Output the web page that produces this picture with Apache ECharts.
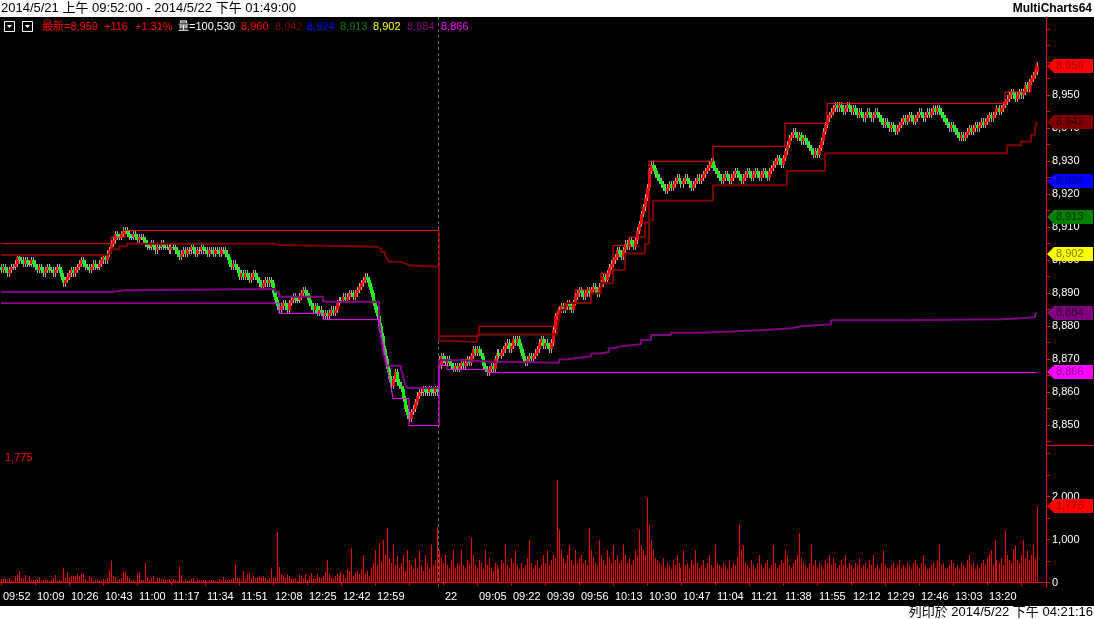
<!DOCTYPE html>
<html><head><meta charset="utf-8">
<script src="https://cdn.jsdelivr.net/npm/echarts@6/dist/echarts.min.js"></script>
<style>html,body{margin:0;padding:0;background:#fff;}#chart{width:1094px;height:619px;}</style>
</head><body><div id="chart"></div>
<script>
// ---------- DATA ----------
const tickLabels = ['09:52','10:09','10:26','10:43','11:00','11:17','11:34','11:51','12:08','12:25','12:42','12:59','','22','09:05','09:22','09:39','09:56','10:13','10:30','10:47','11:04','11:21','11:38','11:55','12:12','12:29','12:46','13:03','13:20',''];
const dayBreakIndex = 219;

const opens = [
8898,8897,8898,8897,8896,8897,8898,8898,
8899,8901,
8900,8900,8899,8900,8899,8899,8900,8899,
8898,8897,8898,8897,8896,8897,8898,8897,8897,8896,8897,8898,
8897,8895,8893,
8894,8895,8896,8897,8896,
8897,8898,8899,8900,8899,
8898,8898,8897,8898,8899,8898,8898,
8899,8900,8901,8900,
8902,8903,
8905,8906,8908,
8907,8907,8908,8909,
8909,8908,8907,8907,8908,8907,8906,8907,8907,8906,
8905,8904,8904,8905,8904,8903,8904,8904,8905,8904,
8904,8904,8903,8904,8904,8903,8902,8901,8902,8903,
8902,8903,8903,8904,8903,8902,8903,8903,8904,8903,8903,8902,
8903,8903,8902,8903,8903,8902,8903,8903,8902,8901,8899,8898,8899,
8898,8897,8895,8896,8895,8896,8895,8894,8895,8896,8895,
8894,8893,8892,8893,8894,8893,8894,
8893,8890,8888,8886,
8885,8886,8887,8886,8885,
8887,8888,8889,8888,8888,
8889,8890,8891,8890,8889,
8887,8886,8885,8886,8884,
8885,8884,8883,8884,8883,8884,8885,8884,
8885,8887,8888,8888,8889,
8888,8889,8890,8890,8889,
8890,8891,8892,8893,8894,
8895,8894,8892,8890,8887,
8885,8883,8880,8877,8873,
8870,8867,8864,
8862,8864,8866,
8863,8862,8861,8858,
8855,8853,8852,8854,
8855,8857,
8859,8860,8860,8861,8860,8860,8861,8860,8860,8861,
8870,8868,8871,8870,8869,8870,
8869,8868,8867,8868,8867,
8868,8869,8868,8869,8870,
8869,8871,8873,
8872,8873,8872,8871,
8868,8867,8866,8867,8868,
8867,8870,8872,8871,8872,
8873,8874,8875,8873,8874,
8876,8875,8876,
8874,8872,8870,8869,
8870,8871,8870,8871,8872,
8873,8875,8876,8874,
8875,8874,8873,
8875,8879,8883,
8884,8885,8886,8885,8886,8887,8886,8885,
8887,8889,8890,8891,8890,8889,8890,8891,
8890,8891,8892,8891,8890,8892,
8893,8895,8894,8896,8898,
8899,8900,8901,8903,8902,
8901,8903,8905,8904,8906,8905,
8904,8906,8909,8911,
8914,8916,8919,
8922,8927,8929,8928,
8926,8925,8924,8923,8922,8921,8922,8923,
8922,8923,8924,8925,8924,8923,8924,8925,8924,8923,
8922,8923,8924,8925,8924,8925,8926,
8927,8928,8929,8930,8928,
8927,8926,8925,8924,8925,8926,8925,8924,8925,8926,8927,8926,8925,
8924,8925,8926,8927,8926,8925,8926,8927,8926,8925,8926,8927,8926,8925,
8927,8928,8929,8930,8931,8930,8929,8931,8933,8935,
8937,8938,8939,8938,8937,8938,8936,8937,
8936,8935,8934,8933,8932,8933,8932,8934,
8936,8939,8941,8943,8944,8945,
8946,8947,8946,8947,8946,8945,8946,8947,8946,8945,
8946,8945,8944,8945,8944,8943,8944,8945,8944,8943,8944,8945,8944,
8943,8942,8941,8942,8941,8940,8941,8940,8939,8940,
8941,8942,8943,8942,8943,8944,8943,8942,8943,8944,8945,8944,8943,8944,8945,
8944,8945,8946,8945,8946,8945,8944,8943,
8942,8941,8940,8941,8940,8939,8938,8937,8938,
8937,8938,8939,8940,8939,8940,8941,8940,8941,8942,8941,
8942,8943,8944,8943,8944,8945,8946,8945,8946,8947,
8948,8949,8950,8951,8950,8949,8950,8951,
8950,8951,8953,8952,8954,8955,8956,8957
];

const closes = [
8897,8898,8897,8896,8897,8898,8898,8899,
8901,8900,
8900,8899,8900,8899,8899,8900,8899,8898,
8897,8898,8897,8896,8897,8898,8897,8897,8896,8897,8898,8897,
8895,8893,8894,
8895,8896,8897,8896,8897,
8898,8899,8900,8899,8898,
8898,8897,8898,8899,8898,8898,8899,
8900,8901,8900,8902,
8903,8905,
8906,8908,8907,
8907,8908,8909,8909,
8908,8907,8907,8908,8907,8906,8907,8907,8906,8905,
8904,8904,8905,8904,8903,8904,8904,8905,8904,8904,
8904,8903,8904,8904,8903,8902,8901,8902,8903,8902,
8903,8903,8904,8903,8902,8903,8903,8904,8903,8903,8902,8903,
8903,8902,8903,8903,8902,8903,8903,8902,8901,8899,8898,8899,8898,
8897,8895,8896,8895,8896,8895,8894,8895,8896,8895,8894,
8893,8892,8893,8894,8893,8894,8893,
8890,8888,8886,8885,
8886,8887,8886,8885,8887,
8888,8889,8888,8888,8889,
8890,8891,8890,8889,8887,
8886,8885,8886,8884,8885,
8884,8883,8884,8883,8884,8885,8884,8885,
8887,8888,8888,8889,8888,
8889,8890,8890,8889,8890,
8891,8892,8893,8894,8895,
8894,8892,8890,8887,8885,
8883,8880,8877,8873,8870,
8867,8864,8862,
8864,8866,8863,
8862,8861,8858,8855,
8853,8852,8854,8855,
8857,8859,
8860,8860,8861,8860,8860,8861,8860,8860,8861,8860,
8868,8871,8870,8869,8870,8869,
8868,8867,8868,8867,8868,
8869,8868,8869,8870,8869,
8871,8873,8872,
8873,8872,8871,8868,
8867,8866,8867,8868,8867,
8870,8872,8871,8872,8873,
8874,8875,8873,8874,8876,
8875,8876,8874,
8872,8870,8869,8870,
8871,8870,8871,8872,8873,
8875,8876,8874,8875,
8874,8873,8875,
8879,8883,8884,
8885,8886,8885,8886,8887,8886,8885,8887,
8889,8890,8891,8890,8889,8890,8891,8890,
8891,8892,8891,8890,8892,8893,
8895,8894,8896,8898,8899,
8900,8901,8903,8902,8901,
8903,8905,8904,8906,8905,8904,
8906,8909,8911,8914,
8916,8919,8922,
8927,8929,8928,8926,
8925,8924,8923,8922,8921,8922,8923,8922,
8923,8924,8925,8924,8923,8924,8925,8924,8923,8922,
8923,8924,8925,8924,8925,8926,8927,
8928,8929,8930,8928,8927,
8926,8925,8924,8925,8926,8925,8924,8925,8926,8927,8926,8925,8924,
8925,8926,8927,8926,8925,8926,8927,8926,8925,8926,8927,8926,8925,8927,
8928,8929,8930,8931,8930,8929,8931,8933,8935,8937,
8938,8939,8938,8937,8938,8936,8937,8936,
8935,8934,8933,8932,8933,8932,8934,8936,
8939,8941,8943,8944,8945,8946,
8947,8946,8947,8946,8945,8946,8947,8946,8945,8946,
8945,8944,8945,8944,8943,8944,8945,8944,8943,8944,8945,8944,8943,
8942,8941,8942,8941,8940,8941,8940,8939,8940,8941,
8942,8943,8942,8943,8944,8943,8942,8943,8944,8945,8944,8943,8944,8945,8944,
8945,8946,8945,8946,8945,8944,8943,8942,
8941,8940,8941,8940,8939,8938,8937,8938,8937,
8938,8939,8940,8939,8940,8941,8940,8941,8942,8941,8942,
8943,8944,8943,8944,8945,8946,8945,8946,8947,8948,
8949,8950,8951,8950,8949,8950,8951,8950,
8951,8953,8952,8954,8955,8956,8957,8959
];

const highs = [
8899,8899,8899,8898,8898,8899,8899,8900,
8902,8902,
8901,8901,8901,8901,8900,8901,8901,8900,
8899,8899,8899,8898,8898,8899,8899,8898,8898,8898,8899,8899,
8898,8896,8895,
8896,8897,8898,8898,8898,
8899,8900,8901,8901,8900,
8899,8899,8899,8900,8900,8899,8900,
8901,8902,8902,8903,
8904,8906,
8907,8909,8909,
8908,8909,8910,8910,
8910,8909,8908,8909,8909,8908,8908,8908,8908,8907,
8906,8905,8906,8906,8905,8905,8905,8906,8906,8905,
8905,8905,8905,8905,8905,8904,8903,8903,8904,8904,
8904,8904,8905,8905,8904,8904,8904,8905,8905,8904,8904,8904,
8904,8904,8904,8904,8904,8904,8904,8904,8903,8902,8900,8900,8900,
8899,8898,8897,8897,8897,8897,8896,8896,8897,8897,8896,
8895,8894,8894,8895,8895,8895,8895,
8894,8891,8889,8887,
8887,8888,8888,8887,8888,
8889,8890,8890,8889,8890,
8891,8892,8892,8891,8890,
8888,8887,8887,8887,8886,
8886,8885,8885,8885,8885,8886,8886,8886,
8888,8889,8889,8890,8890,
8890,8891,8891,8891,8891,
8892,8893,8894,8895,8896,
8896,8895,8893,8891,8888,
8886,8884,8881,8878,8874,
8871,8868,8865,
8865,8867,8867,
8864,8863,8862,8859,
8856,8854,8855,8856,
8858,8860,
8861,8861,8862,8862,8861,8862,8862,8861,8862,8862,
8871,8872,8872,8871,8871,8871,
8870,8869,8869,8869,8869,
8870,8870,8870,8871,8871,
8872,8874,8874,
8874,8874,8873,8872,
8869,8868,8868,8869,8869,
8871,8873,8873,8873,8874,
8875,8876,8876,8875,8877,
8877,8877,8877,
8875,8873,8871,8871,
8872,8872,8872,8873,8874,
8876,8877,8877,8876,
8876,8875,8876,
8880,8884,8885,
8886,8887,8887,8887,8888,8888,8887,8888,
8890,8891,8892,8892,8891,8891,8892,8892,
8892,8893,8893,8892,8893,8894,
8896,8896,8897,8899,8900,
8901,8902,8904,8904,8903,
8904,8906,8906,8907,8907,8906,
8907,8910,8912,8915,
8917,8920,8923,
8928,8930,8930,8929,
8927,8926,8925,8924,8923,8923,8924,8924,
8924,8925,8926,8926,8925,8925,8926,8926,8925,8924,
8924,8925,8926,8926,8926,8927,8928,
8929,8930,8931,8931,8929,
8928,8927,8926,8926,8927,8927,8926,8926,8927,8928,8928,8927,8926,
8926,8927,8928,8928,8927,8927,8928,8928,8927,8927,8928,8928,8927,8928,
8929,8930,8931,8932,8932,8931,8932,8934,8936,8938,
8939,8940,8940,8939,8939,8939,8938,8938,
8937,8936,8935,8934,8934,8934,8935,8937,
8940,8942,8944,8945,8946,8947,
8948,8948,8948,8948,8947,8947,8948,8948,8947,8947,
8947,8946,8946,8946,8945,8945,8946,8946,8945,8945,8946,8946,8945,
8944,8943,8943,8943,8942,8942,8942,8941,8941,8942,
8943,8944,8944,8944,8945,8945,8944,8944,8945,8946,8946,8945,8945,8946,8946,
8946,8947,8947,8947,8947,8946,8945,8944,
8943,8942,8942,8942,8941,8940,8939,8939,8939,
8939,8940,8941,8941,8941,8942,8942,8942,8943,8943,8943,
8944,8945,8945,8945,8946,8947,8947,8947,8948,8949,
8950,8951,8952,8952,8951,8951,8952,8952,
8952,8954,8954,8955,8956,8957,8958,8960
];

const lows = [
8896,8896,8896,8895,8895,8896,8897,8897,
8898,8899,
8899,8898,8898,8898,8898,8898,8898,8897,
8896,8896,8896,8895,8895,8896,8896,8896,8895,8895,8896,8896,
8894,8892,8892,
8893,8894,8895,8895,8895,
8896,8897,8898,8898,8897,
8897,8896,8896,8897,8897,8897,8897,
8898,8899,8899,8899,
8901,8902,
8904,8905,8906,
8906,8906,8907,8908,
8907,8906,8906,8906,8906,8905,8905,8906,8905,8904,
8903,8903,8903,8903,8902,8902,8903,8903,8903,8903,
8903,8902,8902,8903,8902,8901,8900,8900,8901,8901,
8901,8902,8902,8902,8901,8901,8902,8902,8902,8902,8901,8901,
8902,8901,8901,8902,8901,8901,8902,8901,8900,8898,8897,8897,8897,
8896,8894,8894,8894,8894,8894,8893,8893,8894,8894,8893,
8892,8891,8891,8892,8892,8892,8892,
8889,8887,8885,8884,
8884,8885,8885,8884,8884,
8886,8887,8887,8887,8887,
8888,8889,8889,8888,8886,
8885,8884,8884,8883,8883,
8883,8882,8882,8882,8882,8883,8883,8883,
8884,8886,8887,8887,8887,
8887,8888,8889,8888,8888,
8889,8890,8891,8892,8893,
8893,8891,8889,8886,8884,
8882,8879,8876,8872,8869,
8866,8863,8861,
8861,8863,8862,
8861,8860,8857,8854,
8852,8851,8851,8853,
8854,8856,
8858,8859,8859,8859,8859,8859,8859,8859,8859,8859,
8867,8867,8869,8868,8868,8868,
8867,8866,8866,8866,8866,
8867,8867,8867,8868,8868,
8868,8870,8871,
8871,8871,8870,8867,
8866,8865,8865,8866,8866,
8866,8869,8870,8870,8871,
8872,8873,8872,8872,8873,
8874,8874,8873,
8871,8869,8868,8868,
8869,8869,8869,8870,8871,
8872,8874,8873,8873,
8873,8872,8872,
8874,8878,8882,
8883,8884,8884,8884,8885,8885,8884,8884,
8886,8888,8889,8889,8888,8888,8889,8889,
8889,8890,8890,8889,8889,8891,
8892,8893,8893,8895,8897,
8898,8899,8900,8901,8900,
8900,8902,8903,8903,8904,8903,
8903,8905,8908,8910,
8913,8915,8918,
8921,8926,8927,8925,
8924,8923,8922,8921,8920,8920,8921,8921,
8921,8922,8923,8923,8922,8922,8923,8923,8922,8921,
8921,8922,8923,8923,8923,8924,8925,
8926,8927,8928,8927,8926,
8925,8924,8923,8923,8924,8924,8923,8923,8924,8925,8925,8924,8923,
8923,8924,8925,8925,8924,8924,8925,8925,8924,8924,8925,8925,8924,8924,
8926,8927,8928,8929,8929,8928,8928,8930,8932,8934,
8936,8937,8937,8936,8936,8935,8935,8935,
8934,8933,8932,8931,8931,8931,8931,8933,
8935,8938,8940,8942,8943,8944,
8945,8945,8945,8945,8944,8944,8945,8945,8944,8944,
8944,8943,8943,8943,8942,8942,8943,8943,8942,8942,8943,8943,8942,
8941,8940,8940,8940,8939,8939,8939,8938,8938,8939,
8940,8941,8941,8941,8942,8942,8941,8941,8942,8943,8943,8942,8942,8943,8943,
8943,8944,8944,8944,8944,8943,8942,8941,
8940,8939,8939,8939,8938,8937,8936,8936,8936,
8936,8937,8938,8938,8938,8939,8939,8939,8940,8940,8940,
8941,8942,8942,8942,8943,8944,8944,8944,8945,8946,
8947,8948,8949,8949,8948,8948,8949,8949,
8949,8950,8951,8951,8953,8954,8955,8956
];

const volumes = [
78,78,78,31,109,62,31,140,178,271,109,78,178,31,155,62,62,62,78,132,
31,62,78,62,31,47,109,178,31,62,31,341,109,248,132,155,155,155,202,140,
186,225,78,31,155,109,31,62,62,31,31,78,62,109,295,504,155,132,62,78,
109,271,248,155,109,62,62,31,186,248,62,62,457,132,62,109,155,31,109,109,
78,78,62,62,78,31,78,62,31,388,178,31,62,31,31,78,109,31,78,62,
62,62,62,31,62,62,62,31,31,78,62,132,62,62,62,78,109,411,109,109,
62,271,109,202,225,78,155,109,132,132,109,140,109,62,109,318,132,109,1178,364,
202,155,109,178,155,78,78,109,31,202,
140,109,186,62,155,225,109,78,202,132,
109,155,248,523,186,109,78,140,202,155,
248,186,109,318,271,800,155,225,271,186,
318,640,202,271,155,341,457,756,402,930,
504,988,640,1270,580,457,872,402,620,341,
456,640,271,756,520,402,318,580,341,756,
402,271,640,457,318,872,402,520,1290,756,
580,457,640,402,318,520,756,341,457,402,
756,402,318,520,457,1030,640,402,341,520,
457,318,756,402,580,341,271,457,402,318,
520,457,872,402,341,580,457,756,402,318,
457,341,402,580,988,457,318,402,520,341,
402,640,457,756,402,520,640,580,2384,1221,
756,580,457,640,872,520,402,756,457,580,
640,457,520,402,1270,756,580,457,402,988,
640,520,402,756,580,457,872,520,640,457,
520,872,640,457,580,402,520,756,640,1221,
872,756,640,1965,1337,988,756,580,520,457,
402,580,341,457,402,318,520,402,640,457,
341,756,402,457,318,520,402,756,457,341,
402,520,341,457,640,402,341,872,457,402,
341,457,402,318,520,341,457,402,580,1337,
756,872,457,402,341,520,402,318,457,640,
402,341,457,520,318,402,872,457,341,402,
520,457,756,640,402,341,457,520,640,1150,
580,457,402,341,457,872,402,520,341,457,
402,318,520,457,640,402,580,457,341,402,
520,402,640,341,457,402,318,457,402,580,
341,402,457,318,520,402,640,341,402,318,
457,756,402,341,318,402,457,341,402,523,
318,402,341,457,402,318,457,520,402,341,
457,640,402,318,341,402,457,341,520,872,
402,457,318,341,402,520,457,341,402,318,
457,402,341,520,640,402,457,318,402,341,
457,520,402,580,641,756,402,988,520,457,
580,402,1221,640,520,457,756,872,520,457,
640,988,580,756,520,640,872,580,1775
];

// Indicator lines: [barIndex where value starts, value]
const lineHigh = [[0,8905],[55,8907],[62,8909],[219,8877],[239,8880],[278,8884],[279,8886],[287,8891],[300,8896],[306,8904.5],[314,8907],[322,8911.5],[324,8930],[356,8934.5],[392,8941.5],[413,8947.5],[502,8951],[515,8955],[517,8958],[518,8960]];
const lineDarkRed = [[0,8901.6],[53,8902.2],[55,8903.3],[59,8904.2],[63,8905],[137,8904.6],[139,8904.4],[160,8904.1],[188,8903.5],[190,8902.5],[192,8901.5],[193,8900.5],[194,8899.5],[200,8899],[202,8898.5],[204,8898],[219,8875.6],[224,8875.2],[238,8877.5],[278,8879],[279,8882],[280,8885],[282,8887],[295,8890],[300,8893],[306,8897],[312,8902],[322,8905],[324,8912],[326,8918],[356,8922.7],[393,8927],[412,8932.4],[503,8934.8],[510,8936],[515,8938],[517,8940],[518,8942]];
const linePurple = [[0,8890.4],[55,8890.9],[62,8891.3],[137,8890.4],[139,8888.9],[161,8887.4],[189,8881.8],[190,8876.8],[191,8871.8],[192,8869.7],[193,8868],[200,8867],[201,8865],[202,8862.5],[203,8861.3],[219,8869.7],[230,8869.3],[243,8868.9],[279,8869.9],[282,8870.3],[287,8870.9],[295,8871.7],[300,8872.2],[304,8873.3],[306,8873.9],[310,8874.5],[320,8875.8],[325,8877.3],[335,8878],[350,8878.4],[365,8878.8],[380,8879.4],[395,8880],[400,8880.6],[415,8881.8],[450,8882.1],[500,8882.4],[510,8882.7],[517,8883.6],[518,8884]];
const lineMagenta = [[0,8887],[139,8883.9],[161,8882],[189,8879],[190,8877.9],[191,8874.8],[192,8871.8],[193,8868],[194,8864.6],[195,8861.6],[196,8858.1],[204,8849.9],[219,8868.1],[223,8866.9],[243,8866],[518,8866]];

const tagValues = [8959, 8942, 8924, 8913, 8902, 8884, 8866];
const tagColors = ['#ff0000','#800000','#0000ff','#008000','#ffff00','#800080','#ff00ff'];
const tagTextColors = ['#a00000','#2a0000','#000080','#003000','#7a7a00','#300030','#8a008a'];
const legendValues = [8960, 8942, 8924, 8913, 8902, 8884, 8866];
const legendColors = ['#ff0000','#800000','#0000ff','#008000','#ffff00','#800080','#ff00ff'];
const lastPrice = 8959, priceChange = 116, pctChange = 1.31, totalVolume = 100530;

// ---------- CHART ----------
const FONT = '"Liberation Sans", "Noto Sans CJK TC", Arial, sans-serif';
const fmt = v => Math.round(v).toLocaleString('en-US');
const SLOTS = 523;
const cats = Array.from({length: SLOTS}, (_, i) => String(i));
const candleData = closes.map((c, i) => [i, opens[i], c, lows[i], highs[i]]);
const volData = volumes.map((v, i) => [i, v]);
if ([opens, highs, lows, volumes].some(a => a.length !== closes.length)) console.error('length mismatch', opens.length, highs.length, lows.length, closes.length, volumes.length);

const PRICE_MIN = 8844, PRICE_MAX = 8973.7;
const VOL_MIN = -105, VOL_MAX = 3175;
const priceLabelVals = [8850,8860,8870,8880,8890,8900,8910,8920,8930,8940,8950];
const priceTickVals = [8845,8850,8855,8860,8865,8870,8875,8880,8885,8890,8895,8900,8905,8910,8915,8920,8925,8930,8935,8940,8945,8950,8955,8960,8965,8970];
const volLabelVals = [0,1000,2000];
const volTickVals = [0,500,1000,1500,2000,2500,3000];

function candleItem(params, api) {
  const i = api.value(0), o = api.value(1), c = api.value(2), l = api.value(3), h = api.value(4);
  const cx = Math.floor(api.coord([i, o])[0]);
  const yO = Math.round(api.coord([i, o])[1]);
  const yC = Math.round(api.coord([i, c])[1]);
  const yH = Math.round(api.coord([i, h])[1]);
  const yL = Math.round(api.coord([i, l])[1]);
  const children = [{type: 'rect', shape: {x: cx, y: yH, width: 1, height: Math.max(1, yL - yH)}, style: {fill: '#a8a8a8'}}];
  if (o === c) {
    children.push({type: 'rect', shape: {x: cx - 1, y: yO, width: 3, height: 1}, style: {fill: '#a8a8a8'}});
  } else {
    const top = Math.min(yO, yC), hgt = Math.max(1, Math.abs(yO - yC));
    children.push({type: 'rect', shape: {x: cx - 1, y: top, width: 3, height: hgt}, style: {fill: c > o ? '#ff0000' : '#00ff00'}});
  }
  return {type: 'group', children};
}
function volItem(params, api) {
  const i = api.value(0), v = api.value(1);
  const p = api.coord([i, v]), b = api.coord([i, 0]);
  const x = Math.floor(p[0]), y = Math.round(p[1]), yb = Math.round(b[1]);
  return {type: 'rect', shape: {x: x, y: y, width: 1, height: Math.max(1, yb - y)}, style: {fill: '#ff0000'}};
}
function breakItem(params, api) {
  const a = api.coord([dayBreakIndex - 1, 0])[0], b = api.coord([dayBreakIndex, 0])[0];
  const x = Math.floor((a + b) / 2) + 0.5;
  const cs = params.coordSys;
  return {type: 'line', shape: {x1: x, y1: cs.y, x2: x, y2: cs.y + cs.height}, style: {stroke: '#6a6a6a', lineWidth: 1, lineDash: [3, 3]}};
}
function tagItem(colors, textColors) {
  return function (params, api) {
    const v = api.value(1), k = params.dataIndex;
    const y = Math.round(api.coord([0, v])[1]);
    const cs = params.coordSys;
    const x0 = cs.x + cs.width + 1;
    return {type: 'group', children: [
      {type: 'polygon', shape: {points: [[x0, y], [x0 + 7, y - 7], [x0 + 46, y - 7], [x0 + 46, y + 7], [x0 + 7, y + 7]]}, style: {fill: colors[k]}},
      {type: 'text', style: {text: fmt(v), x: x0 + 9, y: y, verticalAlign: 'middle', fill: textColors[k], font: '11px ' + FONT}}
    ]};
  };
}

const chart = echarts.init(document.getElementById('chart'), null, {renderer: 'canvas'});
const lineBase = {type: 'line', xAxisIndex: 0, yAxisIndex: 0, step: 'end', symbol: 'none', silent: true, z: 5};

const legendTexts = [
  {t: '最新=' + fmt(lastPrice), x: 42, c: '#ff0000'},
  {t: '+' + priceChange, x: 104, c: '#ff0000'},
  {t: '+' + pctChange.toFixed(2) + '%', x: 135, c: '#ff0000'},
  {t: '量=' + fmt(totalVolume), x: 178, c: '#ffffff'}
];
const legendXs = [241, 275, 307, 340, 373, 407, 441];
legendValues.forEach((v, k) => legendTexts.push({t: fmt(v), x: legendXs[k], c: legendColors[k]}));

const graphics = [
  {type: 'rect', shape: {x: 0, y: 0, width: 1094, height: 17}, style: {fill: '#ffffff'}, silent: true},
  {type: 'rect', shape: {x: 0, y: 606, width: 1094, height: 13}, style: {fill: '#ffffff'}, silent: true},
  {type: 'text', style: {text: '2014/5/21 上午 09:52:00 - 2014/5/22 下午 01:49:00', x: 1, y: 8.5, verticalAlign: 'middle', fill: '#000', font: '13px ' + FONT}},
  {type: 'text', style: {text: 'MultiCharts64', x: 1092, y: 8.5, align: 'right', verticalAlign: 'middle', fill: '#000', font: 'bold 12px ' + FONT}},
  {type: 'text', style: {text: '列印於 2014/5/22 下午 04:21:16', x: 1093, y: 612.5, align: 'right', verticalAlign: 'middle', fill: '#000', font: '13px ' + FONT}},
  {type: 'rect', shape: {x: 4.5, y: 21.5, width: 10, height: 10}, style: {fill: 'none', stroke: '#fff', lineWidth: 1}},
  {type: 'polygon', shape: {points: [[7, 25], [12, 25], [9.5, 28]]}, style: {fill: '#fff'}},
  {type: 'rect', shape: {x: 22.5, y: 21.5, width: 10, height: 10}, style: {fill: 'none', stroke: '#fff', lineWidth: 1}},
  {type: 'polygon', shape: {points: [[25, 25], [30, 25], [27.5, 28]]}, style: {fill: '#fff'}},
  {type: 'line', shape: {x1: 1046, y1: 445.5, x2: 1094, y2: 445.5}, style: {stroke: '#ff0000', lineWidth: 1}},
  {type: 'text', style: {text: fmt(volumes[volumes.length - 1]), x: 5, y: 458, verticalAlign: 'middle', fill: '#ff0000', font: '11px ' + FONT}}
];
legendTexts.forEach(o => graphics.push({type: 'text', style: {text: o.t, x: o.x, y: 27, verticalAlign: 'middle', fill: o.c, font: '11px ' + FONT}}));

const option = {
  backgroundColor: '#000000',
  animation: false,
  grid: [
    {left: 0, top: 17, width: 1046, height: 428},
    {left: 0, top: 446, width: 1046, height: 141}
  ],
  xAxis: [
    {type: 'category', gridIndex: 0, data: cats, boundaryGap: true, show: false},
    {type: 'category', gridIndex: 1, data: cats, boundaryGap: true,
      axisLine: {show: true, lineStyle: {color: '#ff0000', width: 1}},
      axisTick: {show: true, alignWithLabel: true, interval: 16, length: 3, lineStyle: {color: '#ff0000'}},
      axisLabel: {interval: 16, color: '#ffffff', fontSize: 11, fontFamily: FONT, align: 'left', margin: 4, padding: [0, 0, 0, 2],
        formatter: (v) => { const i = Number(v); return i % 17 === 0 ? (tickLabels[i / 17] || '') : ''; }},
      splitLine: {show: false}
    }
  ],
  yAxis: [
    {type: 'value', gridIndex: 0, position: 'right', min: PRICE_MIN, max: PRICE_MAX,
      axisLine: {show: true, lineStyle: {color: '#ff0000'}},
      axisTick: {show: true, length: 4, customValues: priceTickVals, lineStyle: {color: '#ff0000'}},
      axisLabel: {customValues: priceLabelVals, color: '#ffffff', fontSize: 11, fontFamily: FONT, margin: 6, formatter: v => fmt(v)},
      splitLine: {show: false}},
    {type: 'value', gridIndex: 1, position: 'right', min: VOL_MIN, max: VOL_MAX,
      axisLine: {show: true, lineStyle: {color: '#ff0000'}},
      axisTick: {show: true, length: 4, customValues: volTickVals, lineStyle: {color: '#ff0000'}},
      axisLabel: {customValues: volLabelVals, color: '#ffffff', fontSize: 11, fontFamily: FONT, margin: 6, formatter: v => fmt(v)},
      splitLine: {show: false}}
  ],
  graphic: graphics,
  series: [
    {type: 'custom', xAxisIndex: 0, yAxisIndex: 0, data: [[dayBreakIndex, PRICE_MIN]], renderItem: breakItem, silent: true, z: 1, clip: false},
    {type: 'custom', xAxisIndex: 1, yAxisIndex: 1, data: [[dayBreakIndex, 0]], renderItem: breakItem, silent: true, z: 1, clip: false},
    {type: 'custom', xAxisIndex: 0, yAxisIndex: 0, data: candleData, renderItem: candleItem, silent: true, z: 3, encode: {x: 0, y: [1, 2, 3, 4]}},
    {type: 'custom', xAxisIndex: 1, yAxisIndex: 1, data: volData, renderItem: volItem, silent: true, z: 3, encode: {x: 0, y: 1}},
    Object.assign({}, lineBase, {data: lineHigh, lineStyle: {color: '#ff0000', width: 1}}),
    Object.assign({}, lineBase, {data: lineDarkRed, lineStyle: {color: '#800000', width: 2}}),
    Object.assign({}, lineBase, {data: linePurple, lineStyle: {color: '#800080', width: 2}}),
    Object.assign({}, lineBase, {data: lineMagenta, lineStyle: {color: '#ff00ff', width: 1}}),
    {type: 'custom', xAxisIndex: 0, yAxisIndex: 0, data: tagValues.map(v => [0, v]), renderItem: tagItem(tagColors, tagTextColors), silent: true, z: 10, clip: false, encode: {x: 0, y: 1}},
    {type: 'custom', xAxisIndex: 1, yAxisIndex: 1, data: [[0, volumes[volumes.length - 1]]], renderItem: tagItem(['#ff0000'], ['#a00000']), silent: true, z: 10, clip: false, encode: {x: 0, y: 1}}
  ]
};
chart.setOption(option);
</script>
</body></html>
